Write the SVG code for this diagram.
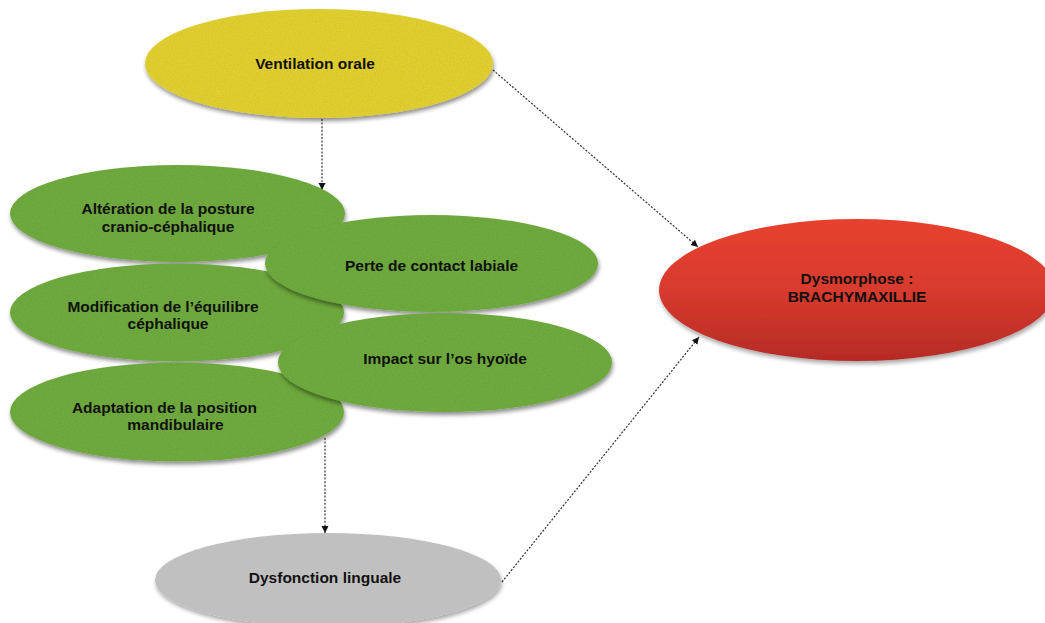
<svg xmlns="http://www.w3.org/2000/svg" width="1045" height="623" viewBox="0 0 1045 623">
  <defs>
    <style>
      text { font-family: "Liberation Sans", Arial, Helvetica, sans-serif; font-weight: bold; font-size: 15.5px; fill: #111; text-anchor: middle; }
      .green { fill: #6fab3f; }
      .conn { fill: none; stroke: #333; stroke-width: 1.2; stroke-dasharray: 2 1.6; }
    </style>
    <linearGradient id="redGrad" x1="0" y1="0" x2="0" y2="1">
      <stop offset="0" stop-color="#e8412f"/>
      <stop offset="0.5" stop-color="#d83a2e"/>
      <stop offset="1" stop-color="#b52b24"/>
    </linearGradient>
    <filter id="tex" x="-5%" y="-10%" width="112%" height="130%">
      <feGaussianBlur in="SourceAlpha" stdDeviation="2.2" result="b"/>
      <feOffset in="b" dx="1" dy="3" result="o"/>
      <feComponentTransfer in="o" result="sh">
        <feFuncA type="linear" slope="0.45"/>
      </feComponentTransfer>
      <feTurbulence type="fractalNoise" baseFrequency="0.85" numOctaves="2" seed="4" result="n"/>
      <feColorMatrix in="n" type="matrix" values="0 0 0 0 0  0 0 0 0 0  0 0 0 0 0  0 0 0 0.25 -0.08" result="na"/>
      <feComposite in="na" in2="SourceGraphic" operator="in" result="nm"/>
      <feMerge>
        <feMergeNode in="sh"/>
        <feMergeNode in="SourceGraphic"/>
        <feMergeNode in="nm"/>
      </feMerge>
    </filter>
    <filter id="shadow" x="-5%" y="-10%" width="112%" height="130%">
      <feGaussianBlur in="SourceAlpha" stdDeviation="2.2" result="b"/>
      <feOffset in="b" dx="1" dy="3" result="o"/>
      <feComponentTransfer in="o" result="sh">
        <feFuncA type="linear" slope="0.35"/>
      </feComponentTransfer>
      <feMerge>
        <feMergeNode in="sh"/>
        <feMergeNode in="SourceGraphic"/>
      </feMerge>
    </filter>
    <marker id="arrow" markerWidth="8" markerHeight="8" refX="7" refY="3.5" orient="auto" markerUnits="userSpaceOnUse">
      <path d="M0,0 L7,3.5 L0,7 Z" fill="#111"/>
    </marker>
  </defs>

  <rect x="0" y="0" width="1045" height="623" fill="#ffffff"/>

  <g id="connectors">
    <line class="conn" x1="322" y1="119" x2="322" y2="190" marker-end="url(#arrow)"/>
    <line class="conn" x1="325" y1="438" x2="325" y2="533" marker-end="url(#arrow)"/>
    <line class="conn" x1="493" y1="70" x2="698" y2="247" marker-end="url(#arrow)"/>
    <line class="conn" x1="502" y1="582" x2="699" y2="337" marker-end="url(#arrow)"/>
  </g>

  <g id="node-ventilation">
    <ellipse cx="319" cy="63.5" rx="174" ry="54.5" fill="#e2d033" filter="url(#tex)"/>
    <text x="315" y="68.5">Ventilation orale</text>
  </g>

  <g id="node-alteration">
    <ellipse class="green" cx="177.5" cy="213.5" rx="167.5" ry="48.5" filter="url(#tex)"/>
    <text x="168" y="214">Altération de la posture</text>
    <text x="168" y="232">cranio-céphalique</text>
  </g>

  <g id="node-modification">
    <ellipse class="green" cx="177" cy="312.5" rx="167" ry="49" filter="url(#tex)"/>
    <text x="163" y="312">Modification de l’équilibre</text>
    <text x="168" y="329">céphalique</text>
  </g>

  <g id="node-adaptation">
    <ellipse class="green" cx="177" cy="412" rx="167" ry="49.5" filter="url(#tex)"/>
    <text x="164.5" y="413">Adaptation de la position</text>
    <text x="175.5" y="430">mandibulaire</text>
  </g>

  <g id="node-perte">
    <ellipse class="green" cx="431.5" cy="263.5" rx="166.5" ry="48.5" filter="url(#tex)"/>
    <text x="431.5" y="271">Perte de contact labiale</text>
  </g>

  <g id="node-impact">
    <ellipse class="green" cx="445" cy="362.5" rx="167" ry="49.5" filter="url(#tex)"/>
    <text x="445" y="364">Impact sur l’os hyoïde</text>
  </g>

  <g id="node-dysfonction">
    <ellipse cx="328" cy="580" rx="173" ry="47" fill="#c0c0c0" filter="url(#shadow)"/>
    <text x="325" y="583">Dysfonction linguale</text>
  </g>

  <g id="node-dysmorphose">
    <ellipse cx="857" cy="290" rx="198" ry="71" fill="url(#redGrad)" filter="url(#shadow)"/>
    <text x="857" y="284">Dysmorphose :</text>
    <text x="857" y="302">BRACHYMAXILLIE</text>
  </g>
</svg>
